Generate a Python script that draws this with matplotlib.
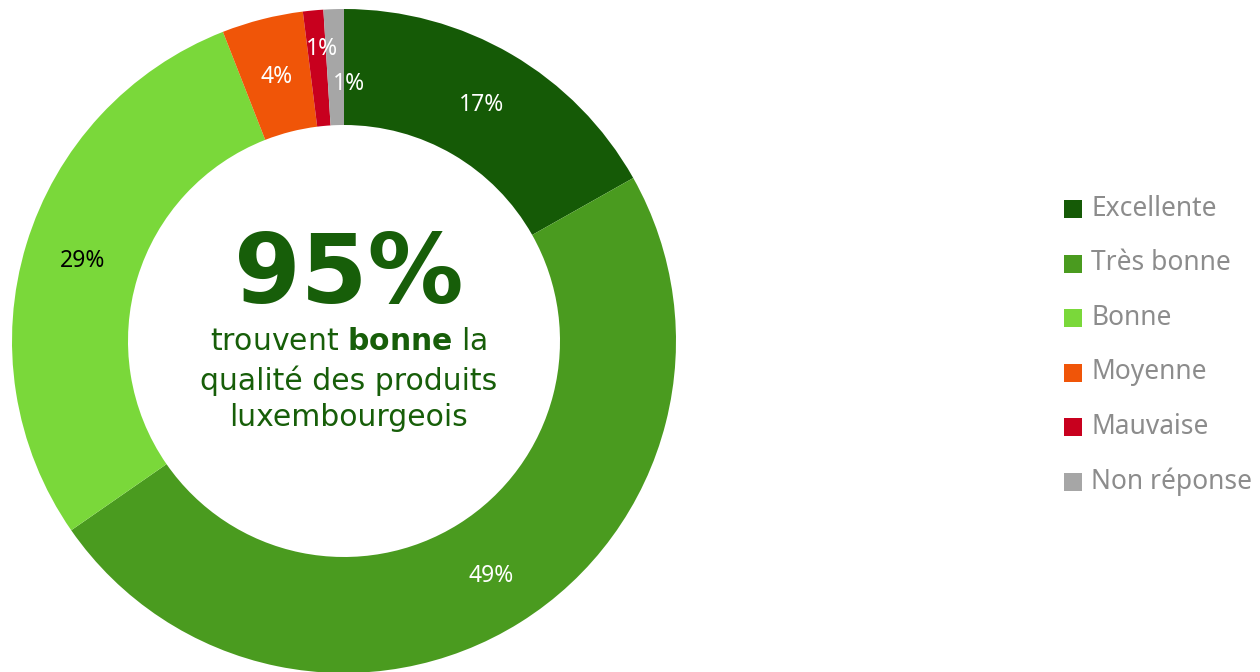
import matplotlib
matplotlib.use("Agg")
import matplotlib.pyplot as plt
import numpy as np
from matplotlib.patches import Rectangle

categories = ["Excellente", "Très bonne", "Bonne", "Moyenne", "Mauvaise", "Non réponse"]
values = [17, 49, 29, 4, 1, 1]
labels = ["17%", "49%", "29%", "4%", "1%", "1%"]
colors = ["#155A06", "#4A9B1F", "#7AD83A", "#F05508", "#C8001E", "#A6A6A6"]
label_colors = ["white", "white", "black", "white", "white", "white"]
headline = "95%"

W, H = 1260, 672
fig = plt.figure(figsize=(W / 100, H / 100), dpi=100)
ax = fig.add_axes([0, 0, 1, 1])
ax.set_xlim(0, W)
ax.set_ylim(0, H)
ax.set_aspect("equal")
ax.axis("off")

cx, cy = 344, H - 341
R_out, R_in = 332, 216

wedges, _ = ax.pie(values, colors=colors, startangle=90, counterclock=False,
                   radius=R_out, center=(cx, cy),
                   wedgeprops=dict(width=R_out - R_in, linewidth=0))
ax.set_xlim(0, W)
ax.set_ylim(0, H)

label_font = "Noto Sans"
# label radial placement tweaks (radius, angle offset in degrees)
tweaks = [(273, 0), (277, 0), (273, 0), (272, 0), (293, -1.0), (257, -3.0)]
for w, lab, col, (r, da) in zip(wedges, labels, label_colors, tweaks):
    ang = np.deg2rad((w.theta1 + w.theta2) / 2 + da)
    x = cx + r * np.cos(ang)
    y = cy + r * np.sin(ang)
    ax.text(x, y, lab, ha="center", va="center", color=col,
            fontsize=16.5, family=label_font)

green = "#175E09"
ax.text(349, H - 276, headline, ha="center", va="center", color=green,
        fontsize=69, fontweight="bold", family="DejaVu Sans")
ax.text(349, H - 342, "trouvent $\\bf{bonne}$ la", ha="center", va="center",
        color=green, fontsize=21.5, family="DejaVu Sans")
ax.text(349, H - 381, "qualité des produits", ha="center", va="center",
        color=green, fontsize=21.5, family="DejaVu Sans")
ax.text(349, H - 418, "luxembourgeois", ha="center", va="center",
        color=green, fontsize=21.5, family="DejaVu Sans")

# legend
y0 = 209
dy = 54.5
for i, (cat, col) in enumerate(zip(categories, colors)):
    y = H - (y0 + i * dy)
    ax.add_patch(Rectangle((1064, y - 9), 18, 18, facecolor=col, edgecolor="none"))
    ax.text(1091, y, cat, ha="left", va="center", color="#8C8C8C",
            fontsize=19, family=label_font)

fig.savefig("out.png", dpi=100)
